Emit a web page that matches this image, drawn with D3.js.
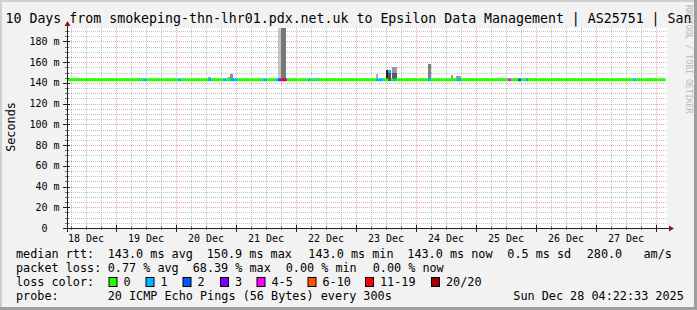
<!DOCTYPE html>
<html>
<head>
<title>smokeping</title>
<script src="https://d3js.org/d3.v7.min.js"></script>
<style>
  body { margin: 0; background: #f2f2f2; }
  svg text { font-family: 'DejaVu Sans Mono', monospace; white-space: pre; }
</style>
</head>
<body>
<div id="viz"></div>
<script>
// ---- values ----
let startTime = '2025-12-18T04:22:33Z',
    endTime = '2025-12-28T04:22:33Z',
    lastSample = '2025-12-28T03:50:00Z';

let yTicks = [0, 20, 40, 60, 80, 100, 120, 140, 160, 180];
let yTickLabels = ['0  ', '20 m', '40 m', '60 m', '80 m', '100 m', '120 m', '140 m', '160 m', '180 m'];

let lossBins = ['0', '1', '2', '3', '4-5', '6-10', '11-19', '20/20'];
let lossColors = ['#26ff00', '#00b8ff', '#0059ff', '#7e00ff', '#ff00ff', '#ff5500', '#ff0000', '#a10000'];

// median rtt in ms, changes only
let medianTimes = ['2025-12-18T04:22:33Z', '2025-12-23T12:50:00Z', '2025-12-23T14:00:00Z'];
let medianValues = [143, 151, 143];

// periods with lost pings (out of 20)
let lossStart = ['2025-12-19T10:40Z', '2025-12-20T00:40Z', '2025-12-20T12:40Z', '2025-12-20T18:40Z', '2025-12-20T21:40Z',
                 '2025-12-21T10:50Z', '2025-12-21T16:00Z', '2025-12-21T16:50Z', '2025-12-21T18:00Z', '2025-12-21T20:00Z',
                 '2025-12-22T04:50Z', '2025-12-22T08:00Z', '2025-12-23T08:00Z', '2025-12-23T12:50Z', '2025-12-23T14:50Z',
                 '2025-12-24T04:50Z', '2025-12-24T16:15Z', '2025-12-25T12:50Z', '2025-12-25T16:50Z', '2025-12-25T20:00Z',
                 '2025-12-27T14:50Z'];
let lossEnd =   ['2025-12-19T12:00Z', '2025-12-20T02:00Z', '2025-12-20T14:00Z', '2025-12-20T20:00Z', '2025-12-21T00:20Z',
                 '2025-12-21T12:30Z', '2025-12-21T16:50Z', '2025-12-21T18:00Z', '2025-12-21T20:00Z', '2025-12-21T20:30Z',
                 '2025-12-22T06:00Z', '2025-12-22T08:40Z', '2025-12-23T10:50Z', '2025-12-23T14:00Z', '2025-12-23T16:00Z',
                 '2025-12-24T06:00Z', '2025-12-24T18:00Z', '2025-12-25T14:00Z', '2025-12-25T18:00Z', '2025-12-25T20:50Z',
                 '2025-12-27T16:00Z'];
let lossCount = [1, 1, 1, 1, 1,
                 1, 1, 2, 15, 2,
                 1, 1, 1, 1, 1,
                 1, 1, 4, 2, 1,
                 1];

// smoke: spread of the pings above the median (ms) and its shade
let smokeStart = ['2025-12-20T12:45Z', '2025-12-20T20:20Z', '2025-12-20T21:35Z', '2025-12-21T16:50Z', '2025-12-21T18:00Z',
                  '2025-12-23T08:00Z', '2025-12-23T12:10Z', '2025-12-23T12:50Z', '2025-12-23T14:20Z', '2025-12-23T14:20Z',
                  '2025-12-24T04:40Z', '2025-12-24T13:50Z', '2025-12-24T15:50Z', '2025-12-25T20:00Z', '2025-12-27T02:20Z',
                  '2025-12-27T21:35Z'];
let smokeEnd =   ['2025-12-20T14:00Z', '2025-12-20T21:35Z', '2025-12-20T22:35Z', '2025-12-21T18:00Z', '2025-12-21T20:00Z',
                  '2025-12-23T08:50Z', '2025-12-23T12:50Z', '2025-12-23T14:00Z', '2025-12-23T16:20Z', '2025-12-23T16:20Z',
                  '2025-12-24T06:00Z', '2025-12-24T14:50Z', '2025-12-24T18:00Z', '2025-12-25T20:50Z', '2025-12-27T03:00Z',
                  '2025-12-27T22:10Z'];
let smokeTop =   [146, 145.5, 149, 260, 260,
                  149, 152, 151, 155, 150,
                  158.5, 148, 147, 145, 144.5,
                  144.5];
let smokeShade = ['#a8a8a8', '#b4b4b4', '#8c8c8c', '#c4c4c4', '#777777',
                  '#b0b0b0', '#222222', '#555555', '#999999', '#5a5a5a',
                  '#808080', '#999999', '#a0a0a0', '#aaaaaa', '#bbbbbb',
                  '#bbbbbb'];

let rttStats = ['143.0 ms avg', '150.9 ms max', '143.0 ms min', '143.0 ms now', '0.5 ms sd', '280.0   am/s'];
let lossStats = ['0.77 % avg', '68.39 % max', '0.00 % min', '0.00 % now'];
let titleText = '10 Days from smokeping-thn-lhr01.pdx.net.uk to Epsilon Data Management | AS25751 | San';
let probeText = '20 ICMP Echo Pings (56 Bytes) every 300s';
let stampText = 'Sun Dec 28 04:22:33 2025';

// ---- drawing ----
let width = 697, height = 310;
let plotLeft = 67, plotRight = 667, plotTop = 28, plotBottom = 228;

let svg = d3.select('#viz').append('svg')
    .attr('width', width)
    .attr('height', height);

let t0 = new Date(startTime), t1 = new Date(endTime);
let x = d3.scaleUtc().domain([t0, t1]).range([plotLeft, plotRight]);
let y = d3.scaleLinear().domain([0, 193]).range([plotBottom, plotTop]).clamp(true);

// background + shading border
svg.append('rect').attr('width', width).attr('height', height).style('fill', '#f2f2f2');
svg.append('rect').attr('x', 0).attr('y', 0).attr('width', width).attr('height', 2).style('fill', '#cfcfcf');
svg.append('rect').attr('x', 0).attr('y', 0).attr('width', 2).attr('height', height).style('fill', '#cfcfcf');
svg.append('rect').attr('x', 0).attr('y', height - 3).attr('width', width).attr('height', 3).style('fill', '#9e9e9e');
svg.append('rect').attr('x', width - 3).attr('y', 0).attr('width', 3).attr('height', height).style('fill', '#9e9e9e');

svg.append('rect')
    .attr('x', plotLeft).attr('y', plotTop)
    .attr('width', plotRight - plotLeft).attr('height', plotBottom - plotTop)
    .style('fill', '#ffffff');

// grid
let grid = svg.append('g').attr('shape-rendering', 'crispEdges');
let minorY = d3.range(5, 193, 5).filter(v => v % 20 !== 0);
grid.selectAll('.hminor').data(minorY).enter().append('line')
    .attr('x1', plotLeft).attr('x2', plotRight)
    .attr('y1', d => Math.round(y(d)) + 0.5).attr('y2', d => Math.round(y(d)) + 0.5)
    .style('stroke', 'rgba(143,143,143,0.55)').style('stroke-dasharray', '1,1');
let days = d3.utcDay.range(t0, t1);
let sixHours = d3.utcHour.every(6).range(t0, t1).filter(d => d.getUTCHours() !== 0);
grid.selectAll('.vminor').data(sixHours).enter().append('line')
    .attr('y1', plotTop).attr('y2', plotBottom)
    .attr('x1', d => Math.round(x(d)) + 0.5).attr('x2', d => Math.round(x(d)) + 0.5)
    .style('stroke', 'rgba(143,143,143,0.55)').style('stroke-dasharray', '1,1');
grid.selectAll('.hmajor').data(yTicks.slice(1)).enter().append('line')
    .attr('x1', plotLeft).attr('x2', plotRight)
    .attr('y1', d => Math.round(y(d)) + 0.5).attr('y2', d => Math.round(y(d)) + 0.5)
    .style('stroke', 'rgba(222,79,79,0.5)').style('stroke-dasharray', '1,1');
grid.selectAll('.vmajor').data(days).enter().append('line')
    .attr('y1', plotTop).attr('y2', plotBottom)
    .attr('x1', d => Math.round(x(d)) + 0.5).attr('x2', d => Math.round(x(d)) + 0.5)
    .style('stroke', 'rgba(222,79,79,0.5)').style('stroke-dasharray', '1,1');

// smoke
svg.append('g').attr('shape-rendering', 'crispEdges')
    .selectAll('rect').data(smokeStart).enter().append('rect')
    .attr('x', d => x(new Date(d)))
    .attr('width', (d, i) => x(new Date(smokeEnd[i])) - x(new Date(d)))
    .attr('y', (d, i) => y(smokeTop[i]))
    .attr('height', (d, i) => y(142) - y(smokeTop[i]))
    .style('fill', (d, i) => smokeShade[i]);

// median line coloured by loss
let lossIndex = c => c === 0 ? 0 : c <= 3 ? c : c <= 5 ? 4 : c <= 10 ? 5 : c <= 19 ? 6 : 7;
let medAt = t => {
    let v = medianValues[0];
    medianTimes.forEach((m, i) => { if (new Date(m) <= t) v = medianValues[i]; });
    return v;
};
let lossAt = t => {
    let c = 0;
    lossStart.forEach((s, i) => { if (new Date(s) <= t && t < new Date(lossEnd[i])) c = lossCount[i]; });
    return c;
};
let tEnd = new Date(lastSample);
let cuts = [t0, tEnd].concat(medianTimes.map(d => new Date(d)), lossStart.map(d => new Date(d)), lossEnd.map(d => new Date(d)))
    .filter(d => d >= t0 && d <= tEnd)
    .sort((a, b) => a - b);
let pieces = d3.pairs(cuts).filter(p => p[1] > p[0])
    .map(p => ({ a: p[0], b: p[1], v: medAt(p[0]), c: lossAt(p[0]) }));

svg.append('g').selectAll('line').data(pieces).enter().append('line')
    .attr('x1', d => x(d.a)).attr('x2', d => x(d.b))
    .attr('y1', d => y(d.v)).attr('y2', d => y(d.v))
    .style('stroke', d => lossColors[lossIndex(d.c)])
    .style('stroke-width', 3);

// axes
let axisColor = '#1f1f1f', arrowColor = '#7f1f1f';
let ax = svg.append('g').attr('shape-rendering', 'crispEdges');
ax.selectAll('.yt').data(yTicks).enter().append('line')
    .attr('x1', plotLeft - 4).attr('x2', plotLeft + 3)
    .attr('y1', d => Math.round(y(d)) + 0.5).attr('y2', d => Math.round(y(d)) + 0.5)
    .style('stroke', axisColor);
ax.selectAll('.ytm').data(minorY).enter().append('line')
    .attr('x1', plotLeft - 2).attr('x2', plotLeft + 2)
    .attr('y1', d => Math.round(y(d)) + 0.5).attr('y2', d => Math.round(y(d)) + 0.5)
    .style('stroke', 'rgba(31,31,31,0.6)');
ax.selectAll('.xt').data(days).enter().append('line')
    .attr('y1', plotBottom - 3).attr('y2', plotBottom + 4)
    .attr('x1', d => Math.round(x(d)) + 0.5).attr('x2', d => Math.round(x(d)) + 0.5)
    .style('stroke', axisColor);
ax.selectAll('.xtm').data(sixHours).enter().append('line')
    .attr('y1', plotBottom - 2).attr('y2', plotBottom + 2)
    .attr('x1', d => Math.round(x(d)) + 0.5).attr('x2', d => Math.round(x(d)) + 0.5)
    .style('stroke', 'rgba(31,31,31,0.6)');
ax.append('line').attr('x1', plotLeft - 4).attr('x2', plotRight + 4)
    .attr('y1', plotBottom + 0.5).attr('y2', plotBottom + 0.5).style('stroke', axisColor);
ax.append('line').attr('x1', plotLeft + 0.5).attr('x2', plotLeft + 0.5)
    .attr('y1', plotBottom + 4).attr('y2', plotTop - 4).style('stroke', axisColor);
svg.append('path')
    .attr('d', `M${plotRight + 2},${plotBottom - 2.5}L${plotRight + 7},${plotBottom + 0.5}L${plotRight + 2},${plotBottom + 3.5}Z`)
    .style('fill', arrowColor);
svg.append('path')
    .attr('d', `M${plotLeft - 2.5},${plotTop - 2}L${plotLeft + 0.5},${plotTop - 7}L${plotLeft + 3.5},${plotTop - 2}Z`)
    .style('fill', arrowColor);

// axis labels
svg.selectAll('.ylab').data(yTicks).enter().append('text')
    .attr('x', 59.5).attr('y', d => y(d) + 3.5)
    .attr('text-anchor', 'end')
    .style('font-size', '10px')
    .text((d, i) => yTickLabels[i]);
let noons = days.map(d => d3.utcHour.offset(d, -12)).filter(d => d >= t0);
svg.selectAll('.xlab').data(noons).enter().append('text')
    .attr('x', d => x(d)).attr('y', 241.5)
    .attr('text-anchor', 'middle')
    .style('font-size', '10px')
    .text(d => d3.utcFormat('%d %b')(d));

svg.append('text')
    .attr('transform', 'translate(14.5,127) rotate(-90)')
    .attr('text-anchor', 'middle')
    .style('font-size', '11.8px')
    .text('Seconds');

svg.append('text')
    .attr('transform', 'translate(685.5,5) rotate(90)')
    .style('font-size', '8.2px')
    .style('fill', '#b8b8b8')
    .text('RRDTOOL / TOBI OETIKER');

svg.append('text')
    .attr('x', 348.5).attr('y', 23)
    .attr('text-anchor', 'middle')
    .style('font-size', '13.25px')
    .text(titleText);

// legend
let lg = svg.append('g').style('font-size', '11.8px');
lg.append('text').attr('x', 16).attr('y', 257.5).text('median rtt:');
let rttX = [107.7, 206.7, 308.3, 407.3, 507.3, 586.7];
lg.selectAll('.rtt').data(rttStats).enter().append('text')
    .attr('x', (d, i) => rttX[i]).attr('y', 257.5).text(d => d);

lg.append('text').attr('x', 16).attr('y', 271.5).text('packet loss:');
let lossX = [107.7, 192.7, 285.7, 372.7];
lg.selectAll('.pl').data(lossStats).enter().append('text')
    .attr('x', (d, i) => lossX[i]).attr('y', 271.5).text(d => d);

lg.append('text').attr('x', 16).attr('y', 285.5).text('loss color:');
let swX = [108.5, 145.5, 182.5, 220, 256.5, 307.5, 365, 431];
lg.selectAll('.sw').data(lossBins).enter().append('rect')
    .attr('x', (d, i) => swX[i] + 0.5).attr('y', 277.5)
    .attr('width', 8).attr('height', 9)
    .style('fill', (d, i) => lossColors[i])
    .style('stroke', '#000');
lg.selectAll('.swl').data(lossBins).enter().append('text')
    .attr('x', (d, i) => swX[i] + 15).attr('y', 285.5).text(d => d);

lg.append('text').attr('x', 16).attr('y', 299.5).text('probe:');
lg.append('text').attr('x', 107.7).attr('y', 299.5).text(probeText);
lg.append('text').attr('x', 513.3).attr('y', 299.5).text(stampText);
</script>
</body>
</html>
